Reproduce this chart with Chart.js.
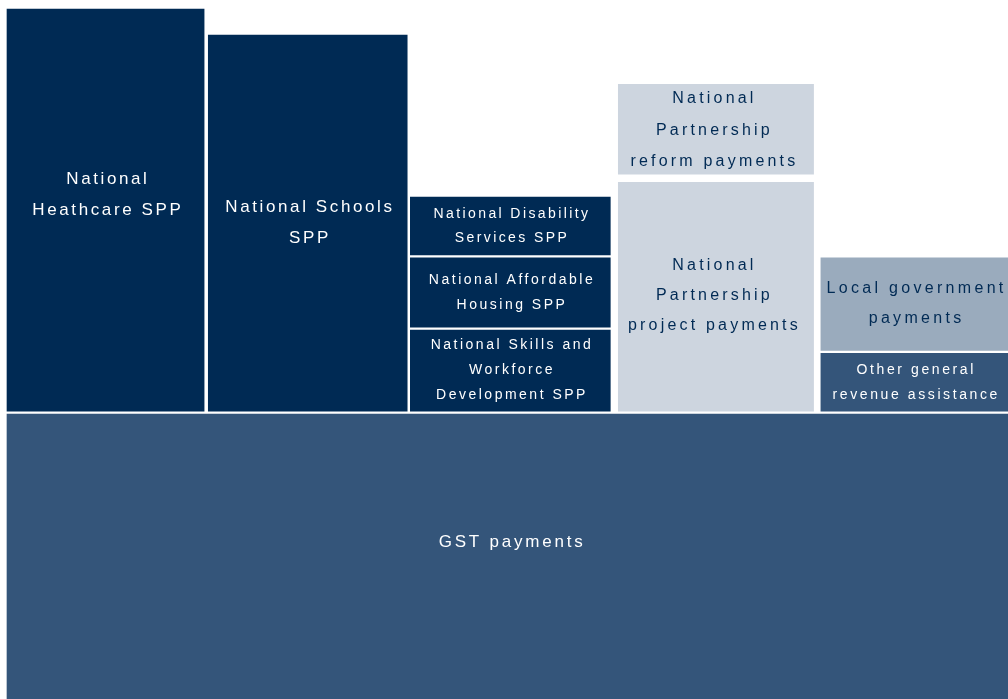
<!DOCTYPE html>
<html>
<head>
<meta charset="utf-8">
<script src="https://cdn.jsdelivr.net/npm/chart.js@4"></script>
<style>
  html, body { margin: 0; padding: 0; background: #fff; overflow: hidden; }
  /* the chart runs a little past the right edge of the window */
  #wrap { width: 1016px; height: 699px; }
</style>
</head>
<body>
<div id="wrap"><canvas id="payments"></canvas></div>
<script>
// columns of the chart (not shown)
const columns = ['Healthcare', 'Schools', 'Other SPPs', 'National Partnerships', 'General revenue'];

// blocks stacked inside the columns, bottom to top ($b)
const blockLabels = [
  'National\nHeathcare SPP',
  'National Schools\nSPP',
  'National Skills and\nWorkforce\nDevelopment SPP',
  'National Affordable\nHousing SPP',
  'National Disability\nServices SPP',
  'National\nPartnership\nproject payments',
  'National\nPartnership\nreform payments',
  'Other general\nrevenue assistance',
  'Local government\npayments'
];
const blockValues = [14.0, 13.1, 2.9, 2.5, 2.1, 8.1, 3.3, 2.1, 3.3];
const blockColumns = [0, 1, 2, 2, 2, 3, 3, 4, 4];

// GST spans the whole width under the columns
const gstLabel = 'GST payments';
const gstValue = 49.5;

const navy = '#002a54';
const slate = '#34557a';
const pale = '#cdd5df';
const grey = '#9aabbd';

const blockColors = [navy, navy, navy, navy, navy, pale, pale, slate, grey];
const blockText = ['#fff', '#fff', '#fff', '#fff', '#fff', navy, navy, '#fff', navy];
const blockSize = [17, 17, 14, 14, 14, 16, 16, 14, 16];
const blockSpacing = [2.6, 2.6, 2.5, 2.5, 2.4, 3.2, 3.2, 2.6, 3.3];
const blockLine = [31, 31, 25, 25, 24, 30, 31.5, 25, 30];

// white gaps between the columns (left / right side of each column)
const gapLeft = [1.5, 0, 0.5, 6.5, 7];
const gapRight = [3.5, 2.5, 1.5, 0, 0];

const datasets = blockLabels.map((label, i) => {
  const c = blockColumns[i];
  let top = 1.5, bottom = 1.5;
  if (i === 5) top = 4;     // wider gap between the two partnership blocks
  if (i === 6) bottom = 4;
  return {
    label: label,
    data: columns.map((name, j) => (j === c ? blockValues[i] : null)),
    backgroundColor: blockColors[i],
    borderColor: '#fff',
    borderWidth: { top: top, bottom: bottom, left: gapLeft[c], right: gapRight[c] },
    borderSkipped: false,
    barPercentage: 1,
    categoryPercentage: 1,
    grouped: false,
    xAxisID: 'x',
    textColor: blockText[i],
    textSize: blockSize[i],
    textSpacing: blockSpacing[i],
    lineHeight: blockLine[i],
    textShift: i === 0 ? -15 : 0
  };
});

datasets.push({
  label: gstLabel,
  data: [-gstValue / columns.length],
  backgroundColor: slate,
  borderColor: '#fff',
  borderWidth: { top: 1.5, left: 1.5, right: 0, bottom: 0 },
  borderSkipped: false,
  barPercentage: 1,
  categoryPercentage: 1,
  grouped: false,
  xAxisID: 'x2',
  textColor: '#fff',
  textSize: 17,
  textSpacing: 2.8,
  lineHeight: 30,
  textShift: -13
});

const colTotals = columns.map((c, j) =>
  blockValues.reduce((s, v, i) => s + (blockColumns[i] === j ? v : 0), 0));

const blockTextPlugin = {
  id: 'blockText',
  afterDatasetsDraw(chart) {
    const ctx = chart.ctx;
    ctx.save();
    ctx.textAlign = 'center';
    ctx.textBaseline = 'middle';
    chart.data.datasets.forEach((ds, i) => {
      const meta = chart.getDatasetMeta(i);
      meta.data.forEach((bar, j) => {
        if (ds.data[j] == null) return;
        const p = bar.getProps(['x', 'y', 'base'], true);
        const lines = ds.label.split('\n');
        const cy = (p.y + p.base) / 2 + ds.textShift;
        ctx.fillStyle = ds.textColor;
        ctx.font = ds.textSize + 'px "Liberation Sans", Arial, sans-serif';
        ctx.letterSpacing = ds.textSpacing + 'px';
        lines.forEach((line, k) => {
          ctx.fillText(line, p.x + ds.textSpacing / 2,
            cy + (k - (lines.length - 1) / 2) * ds.lineHeight);
        });
      });
    });
    ctx.restore();
  }
};

new Chart(document.getElementById('payments'), {
  type: 'bar',
  data: { datasets: datasets },
  plugins: [blockTextPlugin],
  options: {
    responsive: true,
    maintainAspectRatio: false,
    animation: false,
    layout: { padding: { left: 5.5, top: 7.5, right: 0, bottom: 0 } },
    plugins: { legend: { display: false }, tooltip: { enabled: false } },
    scales: {
      x: { type: 'category', labels: columns, display: false, stacked: true },
      x2: { type: 'category', labels: ['GST'], display: false, stacked: true },
      y: {
        display: false,
        stacked: true,
        min: -gstValue / columns.length,
        max: Math.max(...colTotals)
      }
    }
  }
});
</script>
</body>
</html>
